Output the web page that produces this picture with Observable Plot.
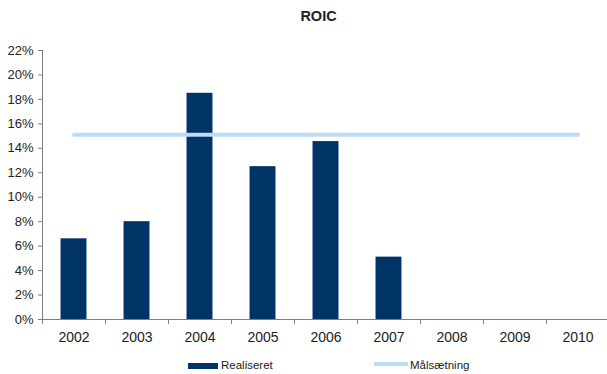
<!DOCTYPE html>
<html>
<head>
<meta charset="utf-8">
<script src="https://cdn.jsdelivr.net/npm/d3@7"></script>
<script src="https://cdn.jsdelivr.net/npm/@observablehq/plot@0.6"></script>
<style>
  body { margin: 0; background: #fff; font-family: "Liberation Sans", Arial, sans-serif; }
  #wrap { position: relative; width: 607px; height: 374px; overflow: hidden; }
  #title { position: absolute; left: 0; width: 637px; top: 8px; text-align: center; font-weight: bold; font-size: 14.5px; color: #222; }
  #chart { position: absolute; left: 0; top: 30px; }
  .leg { position: absolute; font-size: 11.5px; color: #222; line-height: 1; }
  .sw { position: absolute; }
</style>
</head>
<body>
<div id="wrap">
  <div id="title">ROIC</div>
  <div id="chart"></div>
  <div class="sw" id="sw1" style="left:188px;top:363px;width:30px;height:6px;background:#003366"></div>
  <div class="leg" id="lg1" style="left:221px;top:360px;">Realiseret</div>
  <div class="sw" id="sw2" style="left:374px;top:362px;width:34px;height:4px;background:#bcdcf3"></div>
  <div class="leg" id="lg2" style="left:410px;top:360px;">Målsætning</div>
</div>
<script>
const years = [2002, 2003, 2004, 2005, 2006, 2007, 2008, 2009, 2010];
const realiseret = [6.6, 8.0, 18.5, 12.5, 14.55, 5.1, null, null, null];
const maalsaetning = [15.1, 15.1, 15.1, 15.1, 15.1, 15.1, 15.1, 15.1, 15.1];
const yTicks = [0, 2, 4, 6, 8, 10, 12, 14, 16, 18, 20, 22];

const bars = years.map((y, i) => ({year: y, value: realiseret[i]})).filter(d => d.value != null);
const target = years.map((y, i) => ({year: y, value: maalsaetning[i]}));
const boundaries = years.map(y => y - 0.5).concat([years[years.length - 1] + 0.5]);
const halfWidth = 0.206;

const chart = Plot.plot({
  width: 607,
  height: 320,
  marginTop: 20,
  marginBottom: 31,
  marginLeft: 42,
  marginRight: 0,
  style: {fontFamily: "Liberation Sans, Arial, sans-serif", color: "#222", background: "transparent"},
  x: {domain: [2001.5, 2010.5], range: [42, 609]},
  y: {domain: [0, 22]},
  marks: [
    Plot.rectY(bars, {x1: d => d.year - halfWidth, x2: d => d.year + halfWidth, y: "value", fill: "#003366"}),
    Plot.line(target, {x: "year", y: "value", stroke: "#bcdcf3", strokeWidth: 4}),
    Plot.frame({anchor: "left", stroke: "#7f7f7f"}),
    Plot.frame({anchor: "bottom", stroke: "#7f7f7f"}),
    Plot.axisY({ticks: yTicks, tickFormat: d => d + "%", tickSize: 4, tickPadding: 5, fontSize: 13, stroke: "#7f7f7f", label: null}),
    Plot.axisX({ticks: boundaries, tickFormat: () => "", tickSize: 5, stroke: "#7f7f7f", label: null}),
    Plot.axisX({ticks: years, tickFormat: d => String(d), tickSize: 0, tickPadding: 13, fontSize: 14, label: null})
  ]
});
document.getElementById("chart").appendChild(chart);
</script>
</body>
</html>
